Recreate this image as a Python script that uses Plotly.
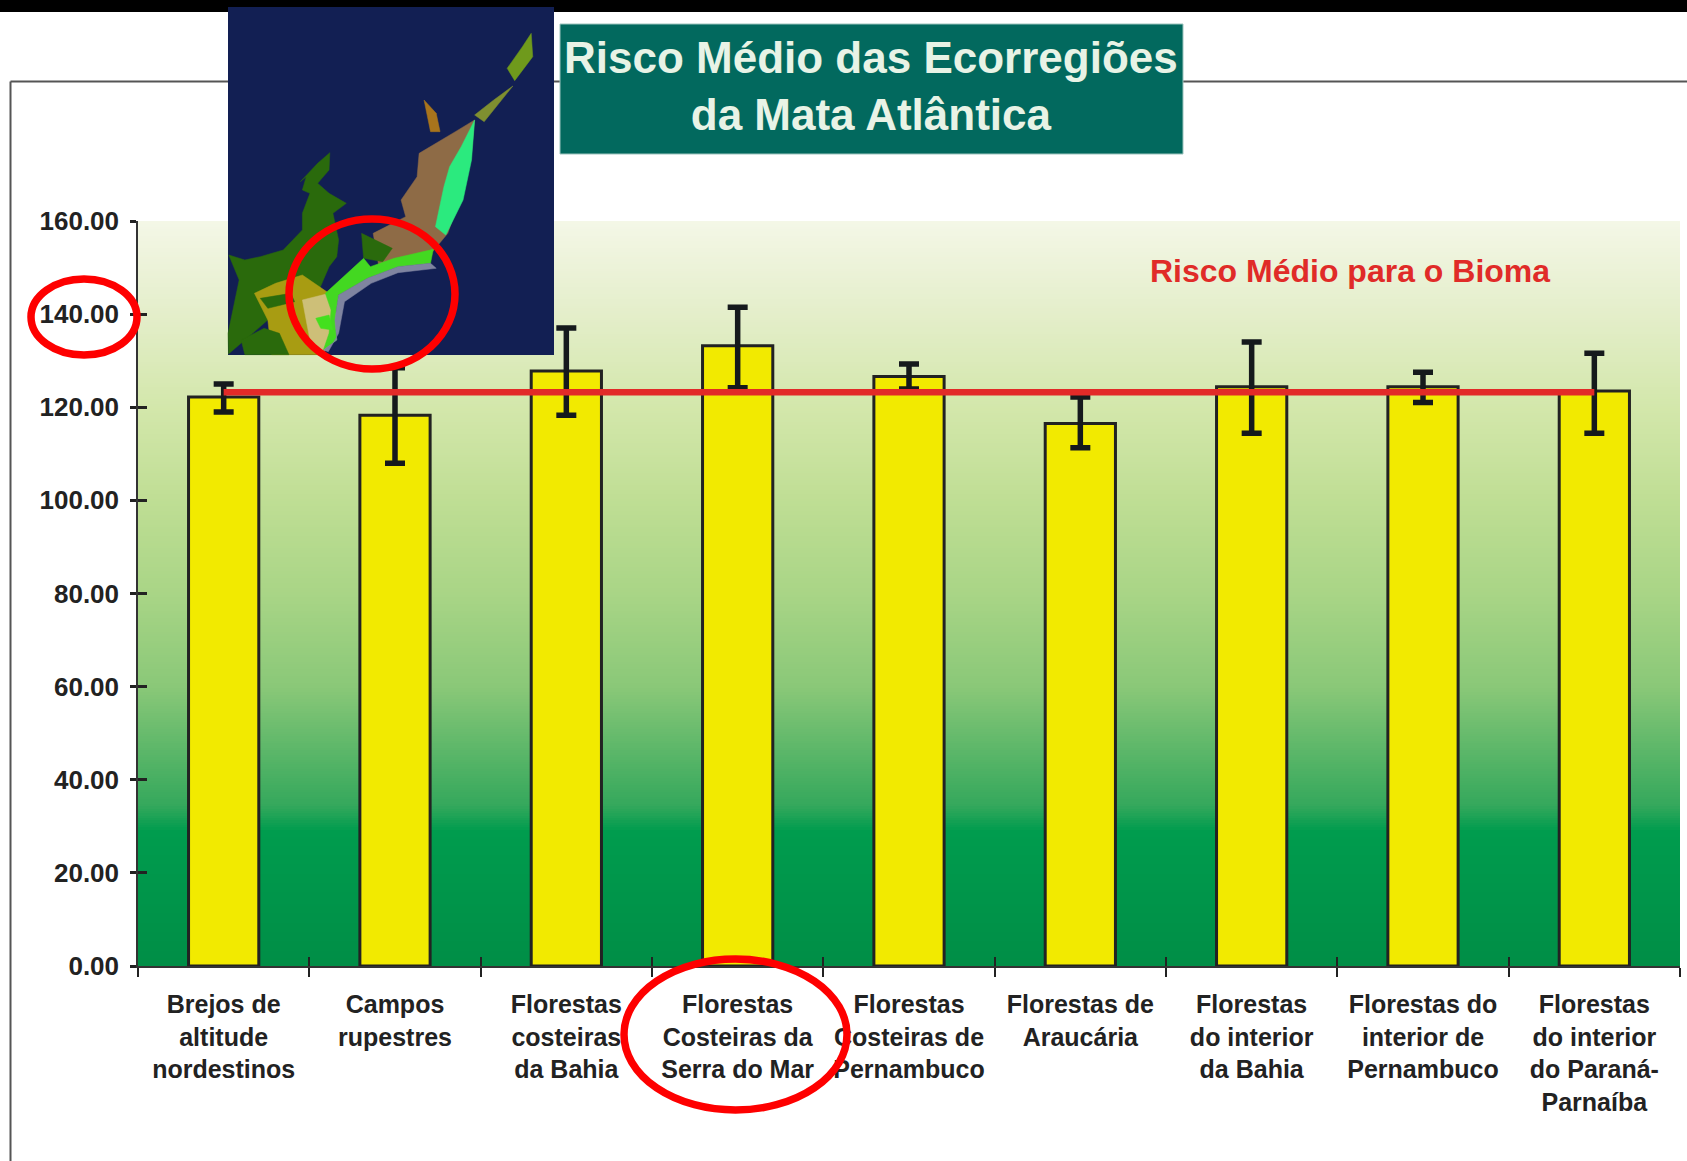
import numpy as np
import plotly.graph_objects as go

categories = ["Brejos de<br>altitude<br>nordestinos", "Campos<br>rupestres", "Florestas<br>costeiras<br>da Bahia",
              "Florestas<br>Costeiras da<br>Serra do Mar", "Florestas<br>Costeiras de<br>Pernambuco",
              "Florestas de<br>Araucária", "Florestas<br>do interior<br>da Bahia",
              "Florestas do<br>interior de<br>Pernambuco", "Florestas<br>do interior<br>do Paraná-<br>Parnaíba"]
risk = [122.2, 118.3, 127.8, 133.2, 126.6, 116.5, 124.4, 124.4, 123.5]
err_high = [125.0, 128.5, 137.0, 141.5, 129.3, 122.2, 134.0, 127.5, 131.6]
err_low = [119.0, 108.0, 118.3, 124.2, 123.9, 111.3, 114.4, 121.0, 114.4]
biome_mean = [123.2] * 9
y_ticks = [0, 20, 40, 60, 80, 100, 120, 140, 160]

W, H = 1687, 1161
L, R, T, B = 138, 1680, 221, 966


def fx(x):
    return (x - L) / (R - L)


def fy(y):
    return (B - y) / (B - T)


def rect(x0, y0, x1, y1, fill, line=None, lw=0):
    return dict(type="rect", xref="paper", yref="paper", x0=fx(x0), x1=fx(x1), y0=fy(y0), y1=fy(y1),
                fillcolor=fill, line=dict(color=line or fill, width=lw), layer="above")


def ellipse(x0, y0, x1, y1):
    return dict(type="circle", xref="paper", yref="paper", x0=fx(x0), x1=fx(x1), y0=fy(y0), y1=fy(y1),
                line=dict(color="#fe0000", width=7.5), layer="above")


def poly(pts, fill):
    # pts are read from a 2.613 x 3 zoomed view of the map inset
    p = ["%s%.4f,%.4f" % ("M" if i == 0 else "L", fx(x / 2.613), fy(y / 3)) for i, (x, y) in enumerate(pts)]
    return dict(type="path", xref="paper", yref="paper", path=" ".join(p) + " Z", fillcolor=fill,
                line=dict(color=fill, width=0.5), layer="above")


# background gradient, drawn as a heatmap on the value axis
grad_stops = [(0, "#008e46"), (29, "#009c4e"), (34.5, "#35a85c"), (60, "#8ac878"), (80, "#a9d586"),
              (100, "#bfde94"), (120, "#d3e7ab"), (140, "#e4eeca"), (160, "#f4f7e7")]
grad_y = np.linspace(0, 160, 321)
grad_z = np.tile(grad_y[:, None], (1, len(categories)))

fig = go.Figure()
fig.add_trace(go.Heatmap(x=categories, y=grad_y, z=grad_z, zmin=0, zmax=160, showscale=False, hoverinfo="skip",
                         colorscale=[[v / 160, c] for v, c in grad_stops]))
fig.add_trace(go.Bar(
    x=categories, y=risk, width=0.41, xaxis="x2", yaxis="y2",
    marker=dict(color="#f2ea00", line=dict(color="#222222", width=3)),
    error_y=dict(type="data", symmetric=False,
                 array=[h - v for h, v in zip(err_high, risk)],
                 arrayminus=[v - l for l, v in zip(err_low, risk)],
                 color="#15191c", thickness=5.5, width=10),
))
fig.add_trace(go.Scatter(x=categories, y=biome_mean, mode="lines", xaxis="x2", yaxis="y2",
                         line=dict(color="#e22a28", width=6.5)))

land = [
    ([(598, 765), (640, 780), (680, 770), (740, 750), (790, 690), (790, 640), (810, 580), (790, 570), (800, 530),
      (785, 545), (830, 490), (862, 458), (860, 510), (830, 550), (860, 580), (905, 610), (870, 640), (885, 720),
      (880, 770), (860, 800), (830, 880), (800, 960), (700, 960), (660, 1000), (597, 1062), (596, 1000), (625, 840)],
     "#2a6a0c"),
    ([(720, 850), (790, 825), (860, 880), (885, 960), (860, 1040), (840, 1064), (710, 1064), (700, 960), (665, 880)],
     "#a89c12"),
    ([(680, 895), (760, 880), (770, 905), (700, 925)], "#2a6a0c"),
    ([(630, 1020), (690, 985), (730, 1000), (755, 1064), (640, 1064)], "#2a6a0c"),
    ([(790, 900), (860, 880), (885, 960), (860, 1040), (830, 1064), (810, 1020)], "#cdbf78"),
    ([(975, 700), (1060, 650), (1048, 600), (1090, 530), (1095, 460), (1190, 395), (1240, 360), (1230, 480),
      (1200, 600), (1170, 700), (1130, 755), (1060, 780), (990, 800)], "#8e6b46"),
    ([(945, 700), (1025, 745), (1000, 785), (950, 775)], "#2a6a0c"),
    ([(1240, 360), (1232, 480), (1210, 600), (1165, 705), (1138, 680), (1160, 560), (1175, 500), (1205, 440)], "#2bea7e"),
    ([(1240, 345), (1290, 300), (1340, 258), (1265, 365)], "#7f8f30"),
    ([(1388, 100), (1392, 170), (1345, 242), (1325, 205), (1365, 140)], "#6f9a1c"),
    ([(850, 880), (950, 775), (968, 800), (1030, 775), (1132, 748), (1125, 790), (1040, 800), (960, 835), (885, 885),
      (875, 960), (880, 1020), (845, 1050), (860, 1000), (865, 930)], "#43d821"),
    ([(825, 955), (860, 945), (870, 990), (838, 985)], "#43e01e"),
    ([(1108, 300), (1140, 340), (1150, 395), (1125, 395)], "#a8741c"),
]
ring_bg = [(885, 885), (960, 835), (1040, 800), (1125, 790), (1140, 805), (1040, 818), (970, 850), (900, 905), (885, 1000),
           (858, 1055), (845, 1050), (880, 1020), (875, 960)]

shapes = [
    rect(0, 0, W, 12, "#000000"),
    dict(type="line", xref="paper", yref="paper", x0=fx(10.5), x1=fx(W), y0=fy(81.5), y1=fy(81.5),
         line=dict(color="#555555", width=2), layer="above"),
    dict(type="line", xref="paper", yref="paper", x0=fx(10.5), x1=fx(10.5), y0=fy(81.5), y1=fy(H),
         line=dict(color="#555555", width=2), layer="above"),
    rect(228, 7, 554, 355, "#121f53"),
]
shapes += [poly(pts, c) for pts, c in land]
shapes.append(poly(ring_bg, "#7f84a0"))
shapes += [
    rect(560, 24, 1183, 154, "#02695e", "#9cc4bd", 1),
    ellipse(31, 279, 137, 355),
    ellipse(289, 219, 455, 369),
    ellipse(624, 959, 847, 1110),
]

axis_common = dict(showgrid=False, zeroline=False)
fig.update_layout(
    width=W, height=H, autosize=False, showlegend=False, bargap=0.6,
    margin=dict(l=L, r=W - R, t=T, b=H - B, pad=0),
    paper_bgcolor="#ffffff", plot_bgcolor="#ffffff",
    font=dict(family="Liberation Sans, Arial, sans-serif", color="#1a1a1a"),
    xaxis=dict(**axis_common, type="category", categoryorder="array", categoryarray=categories,
               range=[-0.5, 8.5], tickson="boundaries", ticks="outside", ticklen=9, tickwidth=2, tickcolor="#222222",
               showline=True, linecolor="#333333", linewidth=2, ticklabelstandoff=15, tickangle=0,
               tickfont=dict(size=25, family="Liberation Sans, Arial, sans-serif", weight="bold", color="#222222")),
    yaxis=dict(**axis_common, range=[0, 160], tickvals=y_ticks, tickformat=".2f", ticks="outside", ticklen=6,
               tickwidth=2.5, tickcolor="#222222", showline=True, linecolor="#333333", linewidth=1.5,
               ticklabelstandoff=6,
               tickfont=dict(size=26, family="Liberation Sans, Arial, sans-serif", weight="bold", color="#222222")),
    xaxis2=dict(**axis_common, type="category", categoryorder="array", categoryarray=categories, overlaying="x",
                range=[-0.5, 8.5], tickson="boundaries", ticks="inside", ticklen=9, tickwidth=2, tickcolor="#222222",
                showticklabels=False, anchor="y2", side="bottom"),
    yaxis2=dict(**axis_common, range=[0, 160], tickvals=y_ticks, overlaying="y", ticks="inside", ticklen=9,
                tickwidth=2.5, tickcolor="#222222", showticklabels=False, anchor="x2", side="left"),
    shapes=shapes,
    annotations=[
        dict(text="<b>Risco Médio das Ecorregiões<br>da Mata Atlântica</b>", xref="paper", yref="paper",
             x=fx(871), y=fy(86), xanchor="center", yanchor="middle", showarrow=False, align="center",
             font=dict(family="Liberation Sans, sans-serif", size=44, color="#e8f3e6")),
        dict(text="<b>Risco Médio para o Bioma</b>", xref="paper", yref="paper",
             x=fx(1350), y=fy(271), xanchor="center", yanchor="middle", showarrow=False,
             font=dict(family="Liberation Sans, sans-serif", size=32, color="#e02b28")),
    ],
)

fig.write_html("out.html", config={"displayModeBar": False},
               post_script="document.body.style.margin='0';document.documentElement.style.overflow='hidden';")
